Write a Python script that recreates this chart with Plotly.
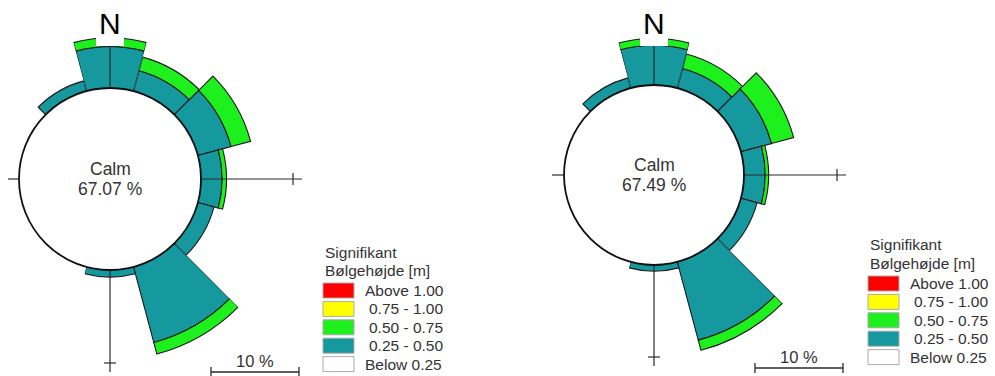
import numpy as np
import plotly.graph_objects as go

# Direction sectors (degrees, clockwise from north), 30 degree bins
directions = [0, 30, 60, 90, 120, 150, 180, 210, 240, 270, 300, 330]

# Frequency (%) per wave-height class, left rose
left_025_050 = [4.7, 2.4, 3.9, 2.4, 1.9, 8.9, 0.8, 0.0, 0.0, 0.0, 0.0, 1.2]
left_050_075 = [1.0, 1.6, 2.3, 0.5, 0.0, 1.35, 0.0, 0.0, 0.0, 0.0, 0.0, 0.0]
left_075_100 = [0.0] * 12
left_above_100 = [0.0] * 12
left_calm = 67.07

# Frequency (%) per wave-height class, right rose
right_025_050 = [4.5, 2.3, 3.6, 2.4, 1.9, 9.2, 0.7, 0.0, 0.0, 0.0, 0.0, 1.2]
right_050_075 = [0.8, 1.7, 2.6, 0.4, 0.0, 1.2, 0.0, 0.0, 0.0, 0.0, 0.0, 0.0]
right_075_100 = [0.0] * 12
right_above_100 = [0.0] * 12
right_calm = 67.49

legend_title = ["Signifikant", "Bølgehøjde [m]"]
legend_labels = ["Above 1.00", "0.75 - 1.00", "0.50 - 0.75", "0.25 - 0.50", "Below 0.25"]
legend_colors = ["#ff0000", "#ffff00", "#1ef01e", "#15999e", "#ffffff"]

W, H = 995, 376
PX_PER_PCT = 8.8          # radial length of 1 % in pixels (10 % scale bar = 88 px)
TEXT = "#333333"
LINE = "#2a2a2a"
FONT = "Liberation Sans, Arial, sans-serif"

# The rose is split into angular pieces so each piece can use the largest
# radius that still fits on the page around the rose centre (compass degrees).
PIECES = [(345, 375), (15, 135), (135, 195), (195, 345)]


def px(x):
    return x / W


def py(y):
    return 1 - y / H


def sector_bbox(a0, a1):
    """Bounding box (unit circle) of a pie sector given in screen angles."""
    angs = list(np.linspace(a0, a1, 721))
    angs += [a for a in range(-360, 721, 90) if a0 <= a <= a1]
    xs = [0.0] + [np.cos(np.radians(a)) for a in angs]
    ys = [0.0] + [np.sin(np.radians(a)) for a in angs]
    return min(xs), min(ys), max(xs), max(ys)


fig = go.Figure()
shapes = []
annotations = []
polar_count = [0]


def hline(x0, x1, y, w=1.2, color=LINE):
    shapes.append(dict(type="line", xref="paper", yref="paper", x0=px(x0), x1=px(x1),
                       y0=py(y), y1=py(y), line=dict(color=color, width=w), layer="above"))


def vline(x, y0, y1, w=1.2, color=LINE):
    shapes.append(dict(type="line", xref="paper", yref="paper", x0=px(x), x1=px(x),
                       y0=py(y0), y1=py(y1), line=dict(color=color, width=w), layer="above"))


def text(x, y, s, size, color=TEXT, xanchor="center", yanchor="middle"):
    annotations.append(dict(x=px(x), y=py(y), xref="paper", yref="paper", text=s,
                            showarrow=False, xanchor=xanchor, yanchor=yanchor,
                            font=dict(size=size, color=color, family=FONT)))


def add_rose(cx, cy, r_calm, classes, calm, legend_pos, bar_pos, axes):
    for c0, c1 in PIECES:
        s0, s1 = 90 - c1, 90 - c0
        bx0, by0, bx1, by1 = sector_bbox(s0, s1)
        lim = [200.0]
        if bx0 < 0:
            lim.append(cx / -bx0)
        if bx1 > 0:
            lim.append((W - cx) / bx1)
        if by1 > 0:
            lim.append(cy / by1)
        if by0 < 0:
            lim.append((H - cy) / -by0)
        R = min(lim) - 0.5

        polar_count[0] += 1
        pid = "polar" if polar_count[0] == 1 else f"polar{polar_count[0]}"
        fig.layout[pid] = dict(
            domain=dict(x=[px(cx + bx0 * R), px(cx + bx1 * R)],
                        y=[py(cy - by0 * R), py(cy - by1 * R)]),
            sector=[s0, s1],
            hole=r_calm / R,
            bgcolor="rgba(0,0,0,0)",
            barmode="stack",
            radialaxis=dict(visible=False, range=[0, (R - r_calm) / PX_PER_PCT]),
            angularaxis=dict(visible=False, rotation=90, direction="clockwise"),
        )
        idx = [i for i, d in enumerate(directions)
               if c0 <= d < c1 or c0 <= d + 360 < c1]
        if not idx:
            continue
        for vals, col in zip(classes, legend_colors[3::-1]):
            fig.add_trace(go.Barpolar(
                r=[vals[i] for i in idx], theta=[directions[i] for i in idx],
                width=[30] * len(idx),
                marker=dict(color=col, line=dict(color="#1a1a1a", width=1.1)),
                subplot=pid, showlegend=False, hoverinfo="skip"))

    # direction axes with end ticks
    e_end, e_tick, s_end, s_tick, w_end, n_end = axes
    hline(cx + r_calm, cx + e_end, cy)
    vline(cx + e_tick, cy - 6, cy + 6)
    vline(cx, cy + r_calm, cy + s_end)
    hline(cx - 6, cx + 6, cy + s_tick)
    hline(cx - w_end, cx - r_calm, cy)
    vline(cx, cy - r_calm, cy - n_end)

    # calm circle
    shapes.append(dict(type="circle", xref="paper", yref="paper",
                       x0=px(cx - r_calm), x1=px(cx + r_calm),
                       y0=py(cy + r_calm), y1=py(cy - r_calm),
                       line=dict(color="#111111", width=1.8), layer="above"))
    text(cx, cy - 10, "Calm", 17.5)
    text(cx, cy + 10, f"{calm:.2f} %", 17.5)

    # north label on a white patch
    shapes.append(dict(type="rect", xref="paper", yref="paper",
                       x0=px(cx - 14), x1=px(cx + 14), y0=py(46), y1=py(8),
                       fillcolor="#ffffff", line=dict(width=0), layer="above"))
    text(cx, 23, "N", 30, color="#000000")

    # 10 % scale bar
    sx0, sy = bar_pos
    sx1 = sx0 + 10 * PX_PER_PCT
    hline(sx0, sx1, sy, w=1.3)
    vline(sx0, sy - 5, sy + 5, w=1.3)
    vline(sx1, sy - 5, sy + 5, w=1.3)
    text((sx0 + sx1) / 2, sy - 11, "10 %", 16.5)

    # legend
    lx, ly = legend_pos
    text(lx, ly, legend_title[0], 15.5, xanchor="left")
    text(lx, ly + 18.4, legend_title[1], 15.5, xanchor="left")
    for i, (lab, col) in enumerate(zip(legend_labels, legend_colors)):
        yc = ly + 38.5 + i * 18.4
        shapes.append(dict(type="rect", xref="paper", yref="paper",
                           x0=px(lx), x1=px(lx + 31), y0=py(yc + 7.5), y1=py(yc - 7.5),
                           fillcolor=col, line=dict(color="#aaaaaa", width=1)))
        indent = 4 if lab[0].isdigit() else 0
        text(lx + 40 + indent, yc, lab, 15.5, xanchor="left")


add_rose(110, 179, 91,
         [left_025_050, left_050_075, left_075_100, left_above_100], left_calm,
         (323, 252), (211, 372), (192, 183, 193, 184, 102, 140))
add_rose(654, 175, 90,
         [right_025_050, right_050_075, right_075_100, right_above_100], right_calm,
         (868, 245), (755, 368), (192, 183, 191, 182, 102, 140))

fig.update_layout(width=W, height=H, margin=dict(l=0, r=0, t=0, b=0),
                  paper_bgcolor="#ffffff", plot_bgcolor="#ffffff",
                  shapes=shapes, annotations=annotations, showlegend=False)

fig.write_html("out.html")
